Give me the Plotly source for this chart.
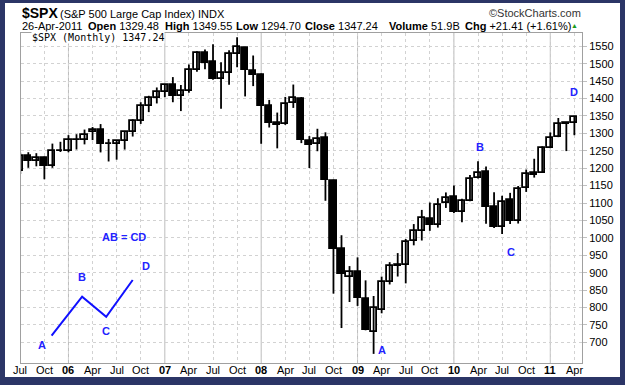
import plotly.graph_objects as go

# ---------------- data (monthly S&P 500, Jul 2005 .. Apr 2011) ----------------
months = ["2005-07", "2005-08", "2005-09", "2005-10", "2005-11", "2005-12",
          "2006-01", "2006-02", "2006-03", "2006-04", "2006-05", "2006-06",
          "2006-07", "2006-08", "2006-09", "2006-10", "2006-11", "2006-12",
          "2007-01", "2007-02", "2007-03", "2007-04", "2007-05", "2007-06",
          "2007-07", "2007-08", "2007-09", "2007-10", "2007-11", "2007-12",
          "2008-01", "2008-02", "2008-03", "2008-04", "2008-05", "2008-06",
          "2008-07", "2008-08", "2008-09", "2008-10", "2008-11", "2008-12",
          "2009-01", "2009-02", "2009-03", "2009-04", "2009-05", "2009-06",
          "2009-07", "2009-08", "2009-09", "2009-10", "2009-11", "2009-12",
          "2010-01", "2010-02", "2010-03", "2010-04", "2010-05", "2010-06",
          "2010-07", "2010-08", "2010-09", "2010-10", "2010-11", "2010-12",
          "2011-01", "2011-02", "2011-03", "2011-04"]

opens = [1191.3, 1234.2, 1220.3, 1228.8, 1207.0, 1249.5,
         1248.3, 1280.1, 1280.7, 1302.9, 1310.6, 1270.1,
         1270.1, 1278.5, 1303.8, 1335.8, 1377.8, 1400.6,
         1418.0, 1437.9, 1406.8, 1420.8, 1482.4, 1530.6,
         1504.7, 1455.2, 1474.0, 1527.3, 1545.8, 1479.6,
         1468.0, 1378.6, 1330.5, 1326.4, 1386.0, 1399.6,
         1276.7, 1269.4, 1287.8, 1164.2, 968.2, 888.6,
         903.0, 823.1, 729.6, 793.6, 872.7, 923.3,
         920.8, 990.2, 1019.5, 1054.9, 1036.2, 1098.9,
         1116.6, 1073.9, 1105.4, 1171.2, 1188.6, 1087.3,
         1031.1, 1107.5, 1049.7, 1143.5, 1185.7, 1186.6,
         1257.6, 1289.1, 1328.6, 1329.5]

highs = [1245.2, 1245.9, 1243.1, 1233.3, 1270.6, 1275.8,
         1294.9, 1297.6, 1310.9, 1318.2, 1326.7, 1284.0,
         1280.4, 1307.1, 1340.3, 1389.5, 1407.9, 1431.8,
         1441.6, 1461.6, 1438.9, 1498.0, 1535.6, 1540.6,
         1555.9, 1503.9, 1538.7, 1576.1, 1545.8, 1523.6,
         1471.8, 1396.0, 1359.7, 1404.6, 1440.2, 1404.1,
         1292.2, 1313.2, 1303.0, 1167.0, 1007.5, 918.9,
         943.9, 877.9, 833.0, 888.7, 930.2, 956.2,
         996.7, 1039.5, 1080.2, 1101.4, 1113.7, 1130.4,
         1150.5, 1112.4, 1180.2, 1219.8, 1205.1, 1131.2,
         1121.0, 1129.2, 1148.9, 1196.1, 1227.1, 1262.6,
         1302.7, 1344.1, 1332.3, 1349.6]

lows = [1183.6, 1201.1, 1205.4, 1168.2, 1201.1, 1246.6,
        1245.7, 1253.6, 1268.4, 1280.7, 1245.3, 1219.3,
        1224.5, 1253.4, 1290.9, 1327.1, 1361.0, 1385.9,
        1404.0, 1389.4, 1364.0, 1416.4, 1476.7, 1484.2,
        1454.3, 1370.6, 1439.3, 1489.6, 1406.1, 1435.7,
        1270.1, 1316.8, 1257.0, 1324.4, 1373.1, 1272.0,
        1200.4, 1248.7, 1106.4, 839.8, 741.0, 815.7,
        804.5, 734.5, 666.8, 783.3, 866.1, 888.9,
        869.3, 978.5, 992.3, 1020.0, 1029.4, 1085.9,
        1071.6, 1044.5, 1105.4, 1170.7, 1040.8, 1028.3,
        1010.9, 1039.7, 1041.1, 1131.9, 1173.0, 1186.6,
        1257.6, 1289.1, 1249.1, 1294.7]

closes = [1234.2, 1220.3, 1228.8, 1207.0, 1249.5, 1248.3,
          1280.1, 1280.7, 1294.8, 1310.6, 1270.1, 1270.2,
          1276.7, 1303.8, 1335.9, 1377.9, 1400.6, 1418.3,
          1438.2, 1406.8, 1420.9, 1482.4, 1530.6, 1503.4,
          1455.3, 1474.0, 1526.8, 1549.4, 1481.1, 1468.4,
          1378.6, 1330.6, 1322.7, 1385.6, 1400.4, 1280.0,
          1267.4, 1282.8, 1166.4, 968.8, 896.2, 903.3,
          825.9, 735.1, 797.9, 872.8, 919.1, 919.3,
          987.5, 1020.6, 1057.1, 1036.2, 1095.6, 1115.1,
          1073.9, 1104.5, 1169.4, 1186.7, 1089.4, 1030.7,
          1101.6, 1049.3, 1141.2, 1183.3, 1180.6, 1257.6,
          1286.1, 1327.2, 1325.8, 1347.2]

y_tick_values = [700, 750, 800, 850, 900, 950, 1000, 1050, 1100, 1150,
                 1200, 1250, 1300, 1350, 1400, 1450, 1500, 1550]
month_abbrev = {"01": None, "04": "Apr", "07": "Jul", "10": "Oct"}

# pattern annotations (x in month index, y in price)
pattern_labels = ["A", "B", "C", "D"]
pattern_x = [45.1, 57.2, 61.1, 69.0]
pattern_y = [678, 1260, 960, 1418]

diagram_x = [3.9, 7.7, 10.7, 14.0]
diagram_y = [719, 831, 773, 879]
diagram_label_x = [2.7, 7.7, 10.7, 15.6]
diagram_label_y = [692, 887, 732, 919]
diagram_title = "AB = CD"
diagram_title_x = 12.9
diagram_title_y = 1003

# ---------------- derived ----------------
X_RANGE = [0.09, 69.95]
Y_RANGE = [640.6, 1588.2]

idx = list(range(len(months)))
tickvals, ticktext, year_lines = [], [], []
for i, m in enumerate(months):
    yy, mm = m.split("-")
    if mm in month_abbrev:
        tickvals.append(i)
        if mm == "01":
            ticktext.append("<b>" + yy[2:] + "</b>")
            year_lines.append(i)
        else:
            ticktext.append(month_abbrev[mm])

BLUE = "#2222ff"
FONT = "Liberation Sans, Arial, sans-serif"

fig = go.Figure()

# wicks
wx, wy = [], []
for i, h, l in zip(idx, highs, lows):
    wx += [i, i, None]
    wy += [l, h, None]
fig.add_trace(go.Scatter(x=wx, y=wy, mode="lines",
                         line=dict(color="black", width=1.8),
                         hoverinfo="skip", showlegend=False))

# bodies
body_h = [max(abs(c - o), 0.5) for o, c in zip(opens, closes)]
body_b = [min(o, c) for o, c in zip(opens, closes)]
body_col = ["white" if c >= o else "black" for o, c in zip(opens, closes)]
fig.add_trace(go.Bar(x=idx, y=body_h, base=body_b, width=0.76,
                     marker=dict(color=body_col, line=dict(color="black", width=1.8)),
                     hoverinfo="skip", showlegend=False))

# AB=CD diagram line
fig.add_trace(go.Scatter(x=diagram_x, y=diagram_y, mode="lines",
                         line=dict(color="#1010ff", width=2),
                         hoverinfo="skip", showlegend=False))

annotations = []
for t, x, y in zip(pattern_labels, pattern_x, pattern_y):
    annotations.append(dict(x=x, y=y, xref="x", yref="y", text="<b>%s</b>" % t,
                            showarrow=False, font=dict(family=FONT, size=11, color=BLUE)))
for t, x, y in zip(pattern_labels, diagram_label_x, diagram_label_y):
    annotations.append(dict(x=x, y=y, xref="x", yref="y", text="<b>%s</b>" % t,
                            showarrow=False, font=dict(family=FONT, size=11, color=BLUE)))
annotations.append(dict(x=diagram_title_x, y=diagram_title_y, xref="x", yref="y",
                        text="<b>%s</b>" % diagram_title, showarrow=False,
                        font=dict(family=FONT, size=11, color=BLUE)))

# helpers for paper coordinates (plot area: x 21..582, y 33..363)
def px_x(px):
    return (px - 21) / 561.0

def px_y(py):
    return (363 - py) / 330.0

def idx_to_paper(v):
    return (v - X_RANGE[0]) / (X_RANGE[1] - X_RANGE[0])

# x tick labels as annotations (first one sits slightly outside the plot area)
for v, t in zip(tickvals, ticktext):
    annotations.append(dict(x=idx_to_paper(v), y=px_y(370), xref="paper", yref="paper",
                            xanchor="center", yanchor="middle", showarrow=False,
                            text=t, font=dict(family=FONT, size=11, color="black")))

annotations.append(dict(x=px_x(20), y=px_y(12.5), xref="paper", yref="paper",
                        xanchor="left", yanchor="middle", showarrow=False,
                        text="<b>$SPX</b>", font=dict(family=FONT, size=14, color="black")))
annotations.append(dict(x=px_x(58), y=px_y(13.5), xref="paper", yref="paper",
                        xanchor="left", yanchor="middle", showarrow=False,
                        text="(S&P 500 Large Cap Index) INDX",
                        font=dict(family=FONT, size=11, color="black")))
annotations.append(dict(x=px_x(583), y=px_y(13), xref="paper", yref="paper",
                        xanchor="right", yanchor="middle", showarrow=False,
                        text="©StockCharts.com", font=dict(family=FONT, size=11, color="#333333")))

line2 = [("26-Apr-2011", 20), ("<b>Open</b> 1329.48", 86), ("<b>High</b> 1349.55", 162.5),
         ("<b>Low</b> 1294.70", 234), ("<b>Close</b> 1347.24", 303),
         ("<b>Volume</b> 51.9B", 386.5), ("<b>Chg</b> +21.41 (+1.61%)", 463)]
for t, px in line2:
    annotations.append(dict(x=px_x(px), y=px_y(26), xref="paper", yref="paper",
                            xanchor="left", yanchor="middle", showarrow=False,
                            text=t, font=dict(family=FONT, size=11, color="black")))
annotations.append(dict(x=px_x(574.5), y=px_y(26), xref="paper", yref="paper",
                        xanchor="center", yanchor="middle", showarrow=False,
                        text="▲", font=dict(family=FONT, size=7, color="#1a9a1a")))

annotations.append(dict(x=px_x(31), y=px_y(37.5), xref="paper", yref="paper",
                        xanchor="left", yanchor="middle", showarrow=False,
                        text="$SPX (Monthly) 1347.24", bgcolor="white", borderpad=0,
                        font=dict(family="DejaVu Sans Mono, monospace", size=10, color="black")))

shapes = [dict(type="rect", xref="paper", yref="paper",
               x0=px_x(5), x1=px_x(620), y0=px_y(377), y1=px_y(3),
               fillcolor="white", line=dict(width=0), layer="below")]
for i in year_lines:
    shapes.append(dict(type="line", xref="x", yref="paper", x0=i, x1=i, y0=0, y1=1,
                       line=dict(color="#bcbcbc", width=1), layer="below"))

fig.update_layout(
    width=625, height=385,
    margin=dict(l=21, r=43, t=33, b=22),
    paper_bgcolor="#2b3566",
    plot_bgcolor="white",
    bargap=0,
    annotations=annotations,
    shapes=shapes,
    font=dict(family=FONT, size=11, color="black"),
)
fig.update_xaxes(range=X_RANGE, tickmode="array", tickvals=tickvals,
                 showticklabels=False,
                 showgrid=True, gridcolor="#d2d2d2", griddash="dot", gridwidth=1,
                 showline=True, mirror=True, linecolor="#a0a0a0", linewidth=1,
                 ticks="", zeroline=False)
fig.update_yaxes(range=Y_RANGE, side="right", tickmode="array", tickvals=y_tick_values,
                 showgrid=True, gridcolor="#d2d2d2", griddash="dot", gridwidth=1,
                 showline=True, mirror=True, linecolor="#a0a0a0", linewidth=1,
                 ticks="outside", ticklen=4, tickcolor="#c0c0c0",
                 zeroline=False, tickfont=dict(family=FONT, size=11, color="black"))

fig.write_html("out.html", config={"displayModeBar": False},
               post_script="document.body.style.margin='0';document.body.style.padding='0';")
